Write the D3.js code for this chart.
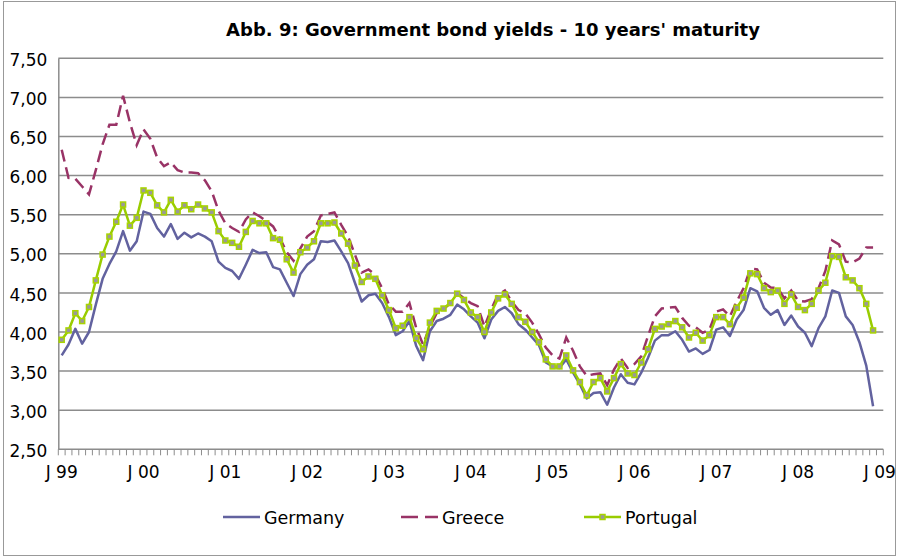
<!DOCTYPE html>
<html>
<head>
<meta charset="utf-8">
<script src="https://cdnjs.cloudflare.com/ajax/libs/d3/7.8.5/d3.min.js"></script>
<style>
  body { margin: 0; background: #fff; }
  text { font-family: "DejaVu Sans", sans-serif; fill: #000; }
</style>
</head>
<body>
<svg class="viz" width="898" height="558"></svg>
<script>
// Monthly 10y yields, Jan 1999 - Dec 2008
var germany = [3.70,3.84,4.04,3.85,4.00,4.35,4.68,4.87,5.03,5.29,5.04,5.16,
  5.54,5.51,5.33,5.22,5.38,5.19,5.27,5.21,5.26,5.22,5.16,4.90,
  4.82,4.78,4.68,4.86,5.05,5.01,5.02,4.83,4.80,4.63,4.46,4.74,
  4.86,4.93,5.16,5.15,5.17,5.03,4.88,4.63,4.39,4.47,4.49,4.37,
  4.19,3.96,4.01,4.14,3.82,3.64,4.01,4.14,4.17,4.22,4.35,4.29,
  4.20,4.12,3.92,4.16,4.27,4.32,4.24,4.10,4.03,3.93,3.83,3.61,
  3.56,3.54,3.65,3.48,3.33,3.15,3.22,3.23,3.07,3.29,3.46,3.35,
  3.33,3.48,3.67,3.89,3.96,3.96,4.01,3.90,3.75,3.79,3.72,3.77,
  4.03,4.06,3.95,4.16,4.28,4.56,4.52,4.31,4.22,4.28,4.09,4.21,
  4.07,3.99,3.82,4.05,4.20,4.53,4.50,4.20,4.09,3.87,3.57,3.05];

var greece = [6.33,5.97,5.96,5.86,5.76,6.07,6.40,6.65,6.65,7.02,6.68,6.39,
  6.59,6.47,6.23,6.12,6.17,6.07,6.04,6.04,6.03,5.94,5.80,5.55,
  5.39,5.33,5.28,5.44,5.53,5.48,5.42,5.35,5.20,5.02,4.91,5.07,
  5.22,5.29,5.49,5.51,5.53,5.37,5.22,4.99,4.76,4.80,4.73,4.56,
  4.35,4.26,4.26,4.37,4.05,3.84,4.07,4.24,4.29,4.37,4.50,4.43,
  4.37,4.33,4.07,4.29,4.48,4.53,4.39,4.28,4.24,4.12,3.97,3.80,
  3.70,3.66,3.93,3.76,3.56,3.44,3.46,3.47,3.32,3.52,3.66,3.54,
  3.59,3.69,3.95,4.20,4.30,4.31,4.32,4.18,4.08,4.06,3.99,4.03,
  4.26,4.29,4.20,4.39,4.56,4.81,4.80,4.63,4.57,4.56,4.43,4.53,
  4.40,4.39,4.42,4.56,4.78,5.17,5.12,4.90,4.89,4.94,5.08,5.08];

var portugal = [3.90,4.02,4.24,4.14,4.32,4.66,4.99,5.22,5.41,5.63,5.36,5.46,
  5.81,5.78,5.62,5.53,5.69,5.54,5.62,5.57,5.63,5.58,5.53,5.29,
  5.17,5.14,5.09,5.28,5.42,5.39,5.39,5.20,5.18,4.93,4.76,5.02,
  5.08,5.16,5.39,5.39,5.40,5.26,5.13,4.85,4.64,4.71,4.68,4.47,
  4.28,4.05,4.08,4.19,3.92,3.78,4.12,4.27,4.30,4.37,4.49,4.41,
  4.25,4.19,4.00,4.25,4.43,4.48,4.36,4.19,4.13,4.00,3.87,3.65,
  3.56,3.56,3.70,3.51,3.36,3.19,3.36,3.41,3.24,3.41,3.59,3.47,
  3.45,3.61,3.78,4.04,4.07,4.10,4.14,4.06,3.93,3.99,3.89,3.96,
  4.19,4.19,4.10,4.31,4.44,4.75,4.74,4.56,4.51,4.53,4.36,4.48,
  4.32,4.28,4.36,4.53,4.63,4.97,4.96,4.70,4.66,4.56,4.36,4.02];

var yTicks = [2.5,3.0,3.5,4.0,4.5,5.0,5.5,6.0,6.5,7.0,7.5];
var xLabels = ["J 99","J 00","J 01","J 02","J 03","J 04","J 05","J 06","J 07","J 08","J 09"];
var seriesNames = ["Germany","Greece","Portugal"];
var nCategories = 121; // Jan 99 .. Jan 09

var svg = d3.select(".viz"),
    margin = {top: 58.3, right: 14.7, bottom: 108.7, left: 58.3},
    width = svg.attr("width") - margin.left - margin.right,
    height = svg.attr("height") - margin.top - margin.bottom;

var colGermany = "#62629f",
    colGreece = "#993366",
    colPortugal = "#99cc00",
    gridCol = "#8c8c8c";

// outer frame
svg.append("rect")
  .attr("x", 3.5).attr("y", 1.5)
  .attr("width", 892).attr("height", 554)
  .attr("fill", "none")
  .attr("stroke", "#999")
  .attr("stroke-width", 1);

var g = svg.append("g")
  .attr("transform", "translate(" + margin.left + "," + margin.top + ")");

var xScale = d3.scaleBand()
  .domain(d3.range(nCategories))
  .range([0, width]);

var yScale = d3.scaleLinear()
  .domain([2.5, 7.5])
  .range([height, 0]);

var xMid = function (i) { return xScale(i) + xScale.bandwidth() / 2; };

// gridlines
g.selectAll("line.grid")
  .data(yTicks)
  .enter()
  .append("line")
    .attr("class", "grid")
    .attr("x1", 0)
    .attr("x2", width)
    .attr("y1", function (d) { return yScale(d); })
    .attr("y2", function (d) { return yScale(d); })
    .style("stroke", gridCol)
    .style("stroke-width", "1.5px");

// y axis
var yAxis = d3.axisLeft(yScale)
  .tickValues(yTicks)
  .tickSize(0)
  .tickPadding(11)
  .tickFormat(function (d) { return d3.format(".2f")(d).replace(".", ","); });

var yG = g.append("g").call(yAxis);
yG.select(".domain").style("stroke", gridCol).style("stroke-width", "1.5px");
yG.selectAll("text")
  .attr("dy", "0.42em")
  .style("font-family", "DejaVu Sans, sans-serif")
  .style("font-size", "17px")
  .style("fill", "#000");

// x axis: tick marks on category boundaries
var boundaries = d3.range(nCategories + 1);
g.selectAll("line.xtick")
  .data(boundaries)
  .enter()
  .append("line")
    .attr("class", "xtick")
    .attr("x1", function (d) { return d * xScale.step(); })
    .attr("x2", function (d) { return d * xScale.step(); })
    .attr("y1", height)
    .attr("y2", height + 6)
    .style("stroke", gridCol)
    .style("stroke-width", "1px");

g.selectAll("text.xlab")
  .data(xLabels)
  .enter()
  .append("text")
    .attr("class", "xlab")
    .attr("x", function (d, i) { return xMid(i * 12); })
    .attr("y", height + 29)
    .attr("text-anchor", "middle")
    .style("font-size", "17px")
    .text(function (d) { return d; });

// lines
var line = d3.line()
  .x(function (d, i) { return xMid(i); })
  .y(function (d) { return yScale(d); });

g.append("path")
  .datum(germany)
  .attr("d", line)
  .attr("fill", "none")
  .style("stroke", colGermany)
  .style("stroke-width", "2.5px")
  .style("stroke-linejoin", "round");

g.append("path")
  .datum(greece)
  .attr("d", line)
  .attr("fill", "none")
  .style("stroke", colGreece)
  .style("stroke-width", "2.5px")
  .style("stroke-dasharray", "12,6");

g.append("path")
  .datum(portugal)
  .attr("d", line)
  .attr("fill", "none")
  .style("stroke", colPortugal)
  .style("stroke-width", "2.5px")
  .style("stroke-linejoin", "round");

g.selectAll("rect.pt")
  .data(portugal)
  .enter()
  .append("rect")
    .attr("class", "pt")
    .attr("x", function (d, i) { return xMid(i) - 2.5; })
    .attr("y", function (d) { return yScale(d) - 2.5; })
    .attr("width", 5)
    .attr("height", 5)
    .style("fill", "#999999")
    .style("stroke", "#a8d400")
    .style("stroke-width", "1.5px");

// title
svg.append("text")
  .attr("x", 493)
  .attr("y", 36)
  .attr("text-anchor", "middle")
  .style("font-size", "18px")
  .style("font-weight", "bold")
  .text("Abb. 9: Government bond yields - 10 years' maturity");

// legend
var legendX = [223, 401, 584];
var legend = svg.selectAll("g.legend")
  .data(seriesNames)
  .enter()
  .append("g")
    .attr("class", "legend")
    .attr("transform", function (d, i) { return "translate(" + legendX[i] + ",517)"; });

legend.append("line")
  .attr("x1", 0).attr("x2", 37)
  .attr("y1", 0).attr("y2", 0)
  .style("stroke", function (d, i) { return [colGermany, colGreece, colPortugal][i]; })
  .style("stroke-width", "2.5px")
  .style("stroke-dasharray", function (d, i) { return i == 1 ? "17,7" : null; });

legend.filter(function (d, i) { return i == 2; })
  .append("rect")
    .attr("x", 16).attr("y", -2.5)
    .attr("width", 5).attr("height", 5)
    .style("fill", "#999999")
    .style("stroke", "#a8d400")
    .style("stroke-width", "1.5px");

legend.append("text")
  .attr("x", 41)
  .attr("y", 7)
  .style("font-size", "17.5px")
  .text(function (d) { return d; });
</script>
</body>
</html>
